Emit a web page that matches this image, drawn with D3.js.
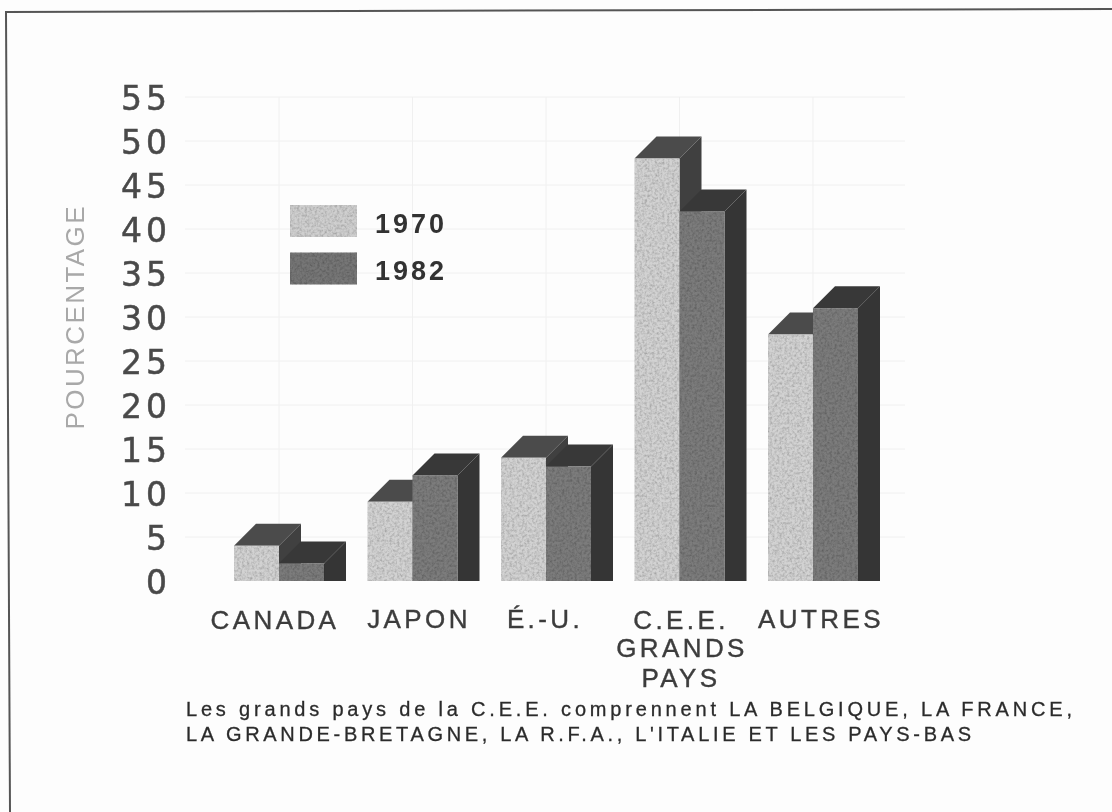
<!DOCTYPE html>
<html>
<head>
<meta charset="utf-8">
<script src="https://cdn.jsdelivr.net/npm/d3@7/dist/d3.min.js"></script>
<style>
  html, body { margin: 0; padding: 0; background: #fdfdfd; }
  svg { display: block; font-family: "Liberation Sans", sans-serif; }
</style>
</head>
<body>
<svg width="1112" height="812"></svg>
<script>
const categories = ['CANADA', 'JAPON', 'É.-U.', 'C.E.E.', 'AUTRES']
const values1970 = [4, 9, 14, 48, 28]
const values1982 = [2, 12, 13, 42, 31]
const yTicks = d3.range(0, 60, 5)
const seriesNames = ['1970', '1982']

const svg = d3.select('svg')
const defs = svg.append('defs')

// scanned paper look: grain on the faces, small blur on everything
const grain = defs.append('filter').attr('id', 'grain')
    .attr('x', 0).attr('y', 0).attr('width', 1).attr('height', 1)
grain.append('feTurbulence')
    .attr('type', 'fractalNoise').attr('baseFrequency', 0.4).attr('numOctaves', 3).attr('seed', 4)
    .attr('result', 'noise')
grain.append('feColorMatrix').attr('in', 'noise').attr('type', 'matrix')
    .attr('values', '0 0 0 0 0  0 0 0 0 0  0 0 0 0 0  0.8 0 0 0 -0.3')
    .attr('result', 'dark')
grain.append('feComposite').attr('in', 'dark').attr('in2', 'SourceGraphic').attr('operator', 'in').attr('result', 'clipped')
grain.append('feMerge').selectAll('feMergeNode')
    .data(['SourceGraphic', 'clipped'])
  .enter().append('feMergeNode').attr('in', d => d)

defs.append('filter').attr('id', 'soft')
    .attr('filterUnits', 'userSpaceOnUse')
    .attr('x', 0).attr('y', 0).attr('width', 1112).attr('height', 812)
  .append('feGaussianBlur').attr('stdDeviation', 0.7)

const root = svg.append('g').attr('filter', 'url(#soft)')

const x = d3.scaleBand()
    .domain(categories)
    .range([234, 880])
    .paddingInner(0.161)
    .paddingOuter(0)
const y = d3.scaleLinear().domain([0, 55]).range([581, 97])
const depth = 22
const barWidth = (x.bandwidth() - depth) / 2

// frame, only top and left survive in the scan
root.append('path')
    .attr('d', d3.line()([[10, 812], [6, 12], [350, 11], [1112, 9]]))
    .attr('fill', 'none')
    .attr('stroke', '#555')
    .attr('stroke-width', 2)

// faint grid
const grid = root.append('g').attr('stroke', '#f0f0f0').attr('stroke-width', 1)
grid.selectAll('line.h')
    .data(yTicks.slice(1))
  .enter().append('line')
    .attr('class', 'h')
    .attr('x1', 185).attr('x2', 905)
    .attr('y1', d => y(d)).attr('y2', d => y(d))
grid.selectAll('line.v')
    .data(categories)
  .enter().append('line')
    .attr('class', 'v')
    .attr('x1', d => x(d) + barWidth).attr('x2', d => x(d) + barWidth)
    .attr('y1', y(55)).attr('y2', y(0))

// y axis
const axis = root.append('g')
    .attr('transform', 'translate(171, 2)')
    .call(d3.axisLeft(y).tickValues(yTicks).tickSize(0).tickPadding(0))
axis.select('.domain').remove()
axis.selectAll('text')
    .attr('font-family', '"DejaVu Sans", sans-serif')
    .attr('font-size', 33)
    .attr('letter-spacing', 4)
    .attr('fill', '#4a4a4a')
    .attr('stroke', '#4a4a4a')
    .attr('stroke-width', 0.5)

root.append('text')
    .attr('transform', 'translate(84, 318) rotate(-90)')
    .attr('text-anchor', 'middle')
    .attr('font-size', 26)
    .attr('textLength', 223)
    .attr('lengthAdjust', 'spacing')
    .attr('fill', '#a8a8a8')
    .text('POURCENTAGE')

// one 3d bar: top and side first, then the front
function drawBar(g, left, w, value, colors) {
  const top = y(value), base = y(0)
  g.append('path')
      .attr('d', d3.line()([[left, top], [left + depth, top - depth], [left + w + depth, top - depth], [left + w, top]]))
      .attr('fill', colors.top)
  g.append('path')
      .attr('d', d3.line()([[left + w, top], [left + w + depth, top - depth], [left + w + depth, base], [left + w, base]]))
      .attr('fill', colors.side)
  g.append('rect')
      .attr('x', left).attr('y', top)
      .attr('width', w).attr('height', base - top)
      .attr('fill', colors.front)
      .attr('filter', 'url(#grain)')
}

const colors1970 = { front: '#d2d2d2', top: '#4c4c4c', side: '#3f3f3f' }
const colors1982 = { front: '#7c7c7c', top: '#383838', side: '#343434' }

const bars = root.append('g')
categories.forEach((c, i) => {
  const g = bars.append('g')
  drawBar(g, x(c), barWidth, values1970[i], colors1970)
  drawBar(g, x(c) + barWidth, barWidth, values1982[i], colors1982)
})

// legend
const legend = root.append('g')
seriesNames.forEach((name, i) => {
  legend.append('rect')
      .attr('x', 290).attr('y', 205 + i * 47.5)
      .attr('width', 67).attr('height', 32)
      .attr('fill', i === 0 ? '#cfcfcf' : '#767676')
      .attr('filter', 'url(#grain)')
  legend.append('text')
      .attr('x', 375).attr('y', 233 + i * 47)
      .attr('font-size', 27)
      .attr('font-weight', 'bold')
      .attr('letter-spacing', 3)
      .attr('fill', '#333')
      .text(name)
})

// category labels
const catLabels = [
  { text: 'CANADA', cx: 275, y: 629 },
  { text: 'JAPON', cx: 419, y: 628 },
  { text: 'É.-U.', cx: 545, y: 628 },
  { text: 'C.E.E.', cx: 681, y: 629 },
  { text: 'GRANDS', cx: 682, y: 657 },
  { text: 'PAYS', cx: 681, y: 687 },
  { text: 'AUTRES', cx: 821, y: 628 }
]
root.append('g').selectAll('text')
    .data(catLabels)
  .enter().append('text')
    .attr('x', d => d.cx)
    .attr('y', d => d.y)
    .attr('text-anchor', 'middle')
    .attr('font-size', 26)
    .attr('letter-spacing', 3.4)
    .attr('fill', '#3c3c3c')
    .attr('stroke', '#3c3c3c')
    .attr('stroke-width', 0.4)
    .text(d => d.text)

// footnote
const notes = [
  'Les grands pays de la C.E.E. comprennent LA BELGIQUE, LA FRANCE,',
  'LA GRANDE-BRETAGNE, LA R.F.A., L\'ITALIE ET LES PAYS-BAS'
]
const noteWidths = [886, 785]
root.append('g').selectAll('text')
    .data(notes)
  .enter().append('text')
    .attr('x', 186)
    .attr('y', (d, i) => 716 + i * 25)
    .attr('font-size', 20)
    .attr('textLength', (d, i) => noteWidths[i])
    .attr('lengthAdjust', 'spacing')
    .attr('fill', '#2c2c2c')
    .attr('stroke', '#2c2c2c')
    .attr('stroke-width', 0.3)
    .text(d => d)
</script>
</body>
</html>
